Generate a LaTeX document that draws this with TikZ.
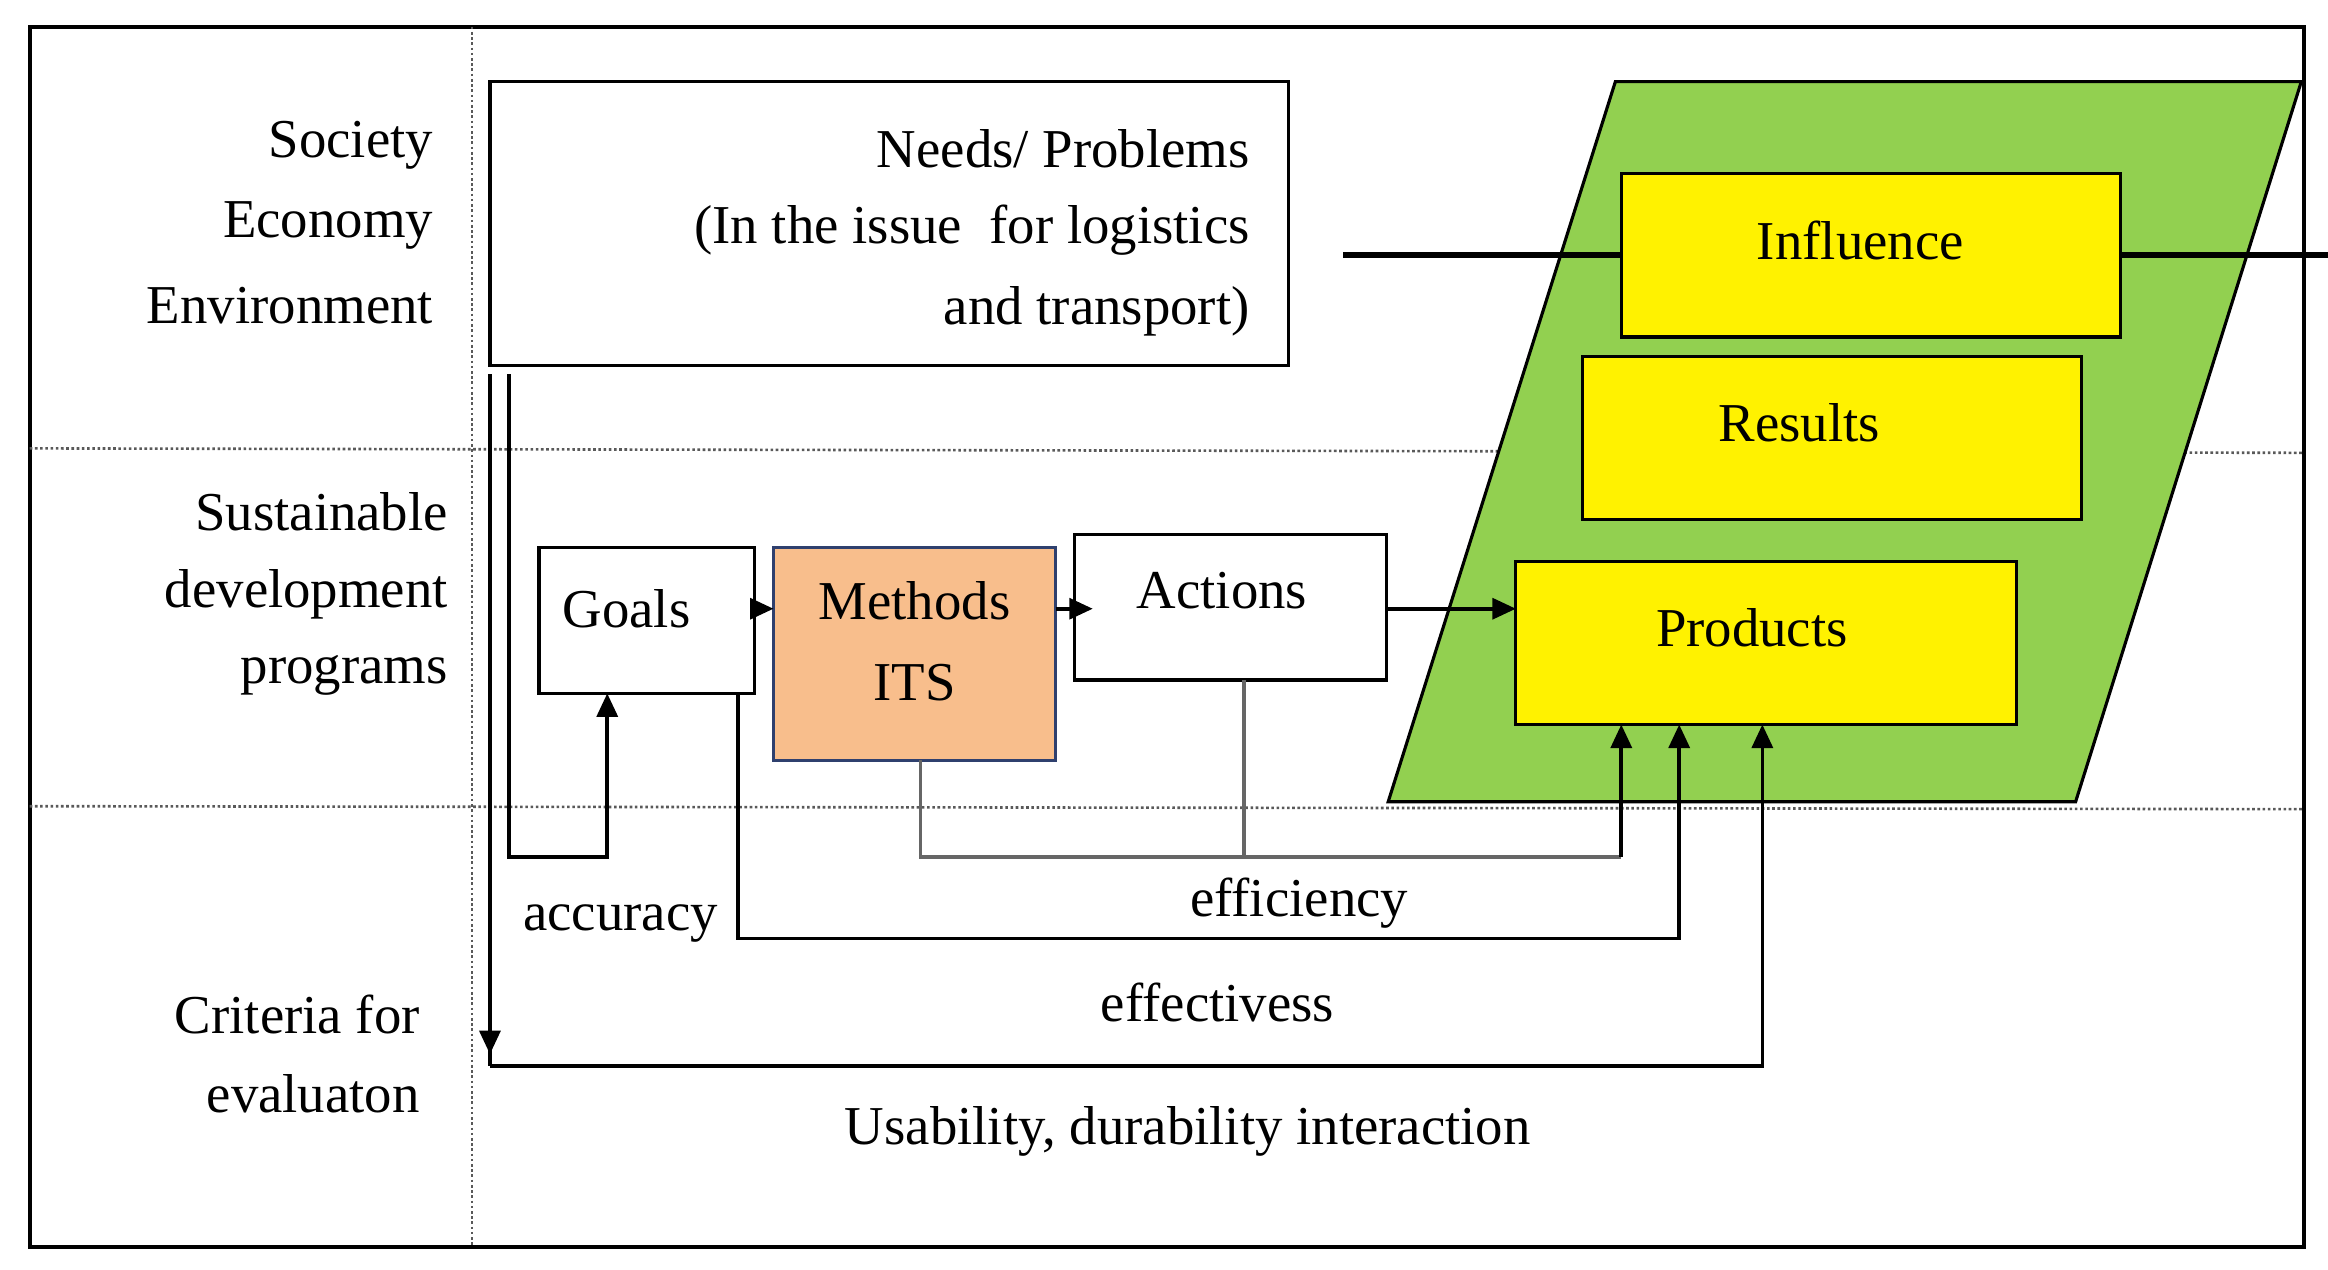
\documentclass[tikz,border=0pt]{standalone}
\usepackage{fontspec}
\setmainfont{Liberation Serif}
\usetikzlibrary{arrows.meta}
\begin{document}
\begin{tikzpicture}[x=0.02cm,y=-0.02cm,
  txt/.style={font=\fontsize{21}{31}\selectfont,inner sep=0pt},
  box/.style={draw,line width=1.2pt},
  dot/.style={densely dotted,line width=1pt,gray!70!black},
  arr/.style={-{Triangle[length=9pt,width=8pt]},line width=1.4pt},
  ln/.style={line width=1.4pt}]
\useasboundingbox (0,0) rectangle (1568,855);
\draw[line width=1.4pt] (20,18) rectangle (1552,840);
\draw[dot] (318,18) -- (318,840);
\draw[dot] (20,302) -- (1552,305);
\draw[dot] (20,543) -- (1552,545);
% left labels
\node[txt,anchor=east] (l1) at (292,98) {Society};
\node[txt,anchor=east] (l2) at (292,152) {Economy};
\node[txt,anchor=east] (l3) at (292,206) {Environment};
\node[txt,anchor=east] (l4) at (302,345) {Sustainable};
\node[txt,anchor=east] (l5) at (302,400) {development};
\node[txt,anchor=east] (l6) at (302,455) {programs};
\node[txt,anchor=east] (l7) at (283,683) {Criteria for};
\node[txt,anchor=east] (l8) at (283,737) {evaluaton};
% needs box
\draw[box] (330,55) rectangle (868,246);
\node[txt,anchor=east] (n1) at (842,100) {Needs/ Problems};
\node[txt,anchor=east] (n2) at (842,155) {(In the issue\ \ for logistics};
\node[txt,anchor=east] (n3) at (842,210) {and transport)};
% parallelogram
\draw[line width=1.2pt,fill={rgb,255:red,146;green,208;blue,80}] (1088,55) -- (1550,55) -- (1398,540) -- (935,540) -- cycle;
\node[box,fill=yellow,minimum width=336\pgflinewidth,inner sep=0pt] (inf) at (1260,172) {};
\draw[box,fill=yellow] (1092,117) rectangle (1428,227);
\node[txt] (infl) at (1253,162) {Influence};
\draw[box,fill=yellow] (1066,240) rectangle (1402,350);
\node[txt] (res) at (1212,285) {Results};
\draw[box,fill=yellow] (1021,378) rectangle (1358,488);
\coordinate (prodW) at (1021,410);
\node[txt] (prod) at (1180,423) {Products};
% goals/methods/actions
\draw[box] (363,369) rectangle (508,467);
\node[txt] (goals) at (422,410) {Goals};
\draw[line width=1.2pt,draw={rgb,255:red,47;green,64;blue,110},fill={rgb,255:red,248;green,190;blue,140}] (521,369) rectangle (711,512);
\node[txt,align=center] (meth) at (616,432) {Methods\\ITS};
\draw[box] (724,360) rectangle (934,458);
\node[txt] (act) at (823,398) {Actions};
\coordinate (gE) at (508,410); \coordinate (mW) at (521,410);
\coordinate (mE) at (711,410); \coordinate (aW) at (736,410);
\coordinate (aE) at (934,410);
\draw[arr] (gE) -- (mW);
\draw[arr] (mE) -- (aW);
\draw[arr] (aE) -- (prodW);
% connectors
\coordinate (p1) at (1092,488); \coordinate (p2) at (1131,488); \coordinate (p3) at (1187,488);
\draw[arr] (343,252) -- (343,577) -- (409,577) -- (409,467);
\draw[ln,gray!80!black] (620,512) -- (620,577) -- (1092,577);
\draw[ln,gray!80!black] (838,458) -- (838,577);
\draw[arr] (1092,577) -- (p1);
\draw[arr] (497,467) -- (497,632) -- (1131,632) -- (p2);
\draw[arr] (330,252) -- (330,710); \draw[arr] (330,718) -- (1187,718) -- (p3);
\draw[ln] (330,700) -- (330,718);
\node[txt] (acc) at (418,622) {accuracy};
\node[txt] (eff) at (875,608) {efficiency};
\node[txt] (efv) at (820,675) {effectivess};
\node[txt] (usa) at (800,762) {Usability, durability interaction};
\end{tikzpicture}
\end{document}
